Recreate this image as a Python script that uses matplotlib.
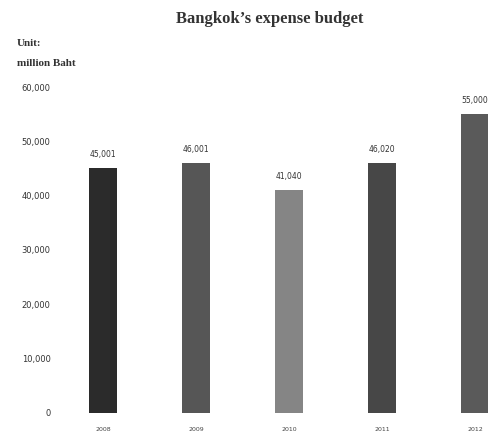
import numpy as np
import matplotlib.pyplot as plt

years = ['2008', '2009', '2010', '2011', '2012']
budget = [45001, 46001, 41040, 46020, 55000]
bar_colors = ['#2b2b2b', '#565656', '#858585', '#474747', '#5a5a5a']
yticks = [0, 10000, 20000, 30000, 40000, 50000, 60000]

plt.rcParams['font.family'] = ['DejaVu Sans']

fig = plt.figure(figsize=(4.88, 4.42), dpi=100)
ax = fig.add_axes([70/488, 29/442, 418/488, 326/442])

x = np.arange(len(years))
ax.bar(x, budget, width=0.31, color=bar_colors)
for xi, v in zip(x, budget):
    ax.text(xi, v + 1700, f'{v:,}', ha='center', va='bottom', fontsize=5.5, color='#333333', clip_on=False)

ax.set_xlim(-0.355, 4.14)
ax.set_ylim(0, 60000)
ax.set_xticks(x)
ax.set_xticklabels(years, fontsize=4.5, color='#444444')
ax.set_yticks(yticks)
ax.set_yticklabels([f'{t:,}' for t in yticks], fontsize=6, color='#333333')
ax.tick_params(length=0)
ax.tick_params(axis='y', pad=14)
ax.tick_params(axis='x', pad=10)
for s in ax.spines.values():
    s.set_visible(False)

fig.text(270/488, 1 - 19/442, "Bangkok\u2019s expense budget", ha='center', va='center',
         fontsize=12, fontweight='bold', color='#333333', family='Liberation Serif')
fig.text(17/488, 1 - 44/442, 'Unit:', ha='left', va='center', fontsize=8, fontweight='bold',
         color='#333333', family='Liberation Serif')
fig.text(17/488, 1 - 63/442, 'million Baht', ha='left', va='center', fontsize=8, fontweight='bold',
         color='#333333', family='Liberation Serif')

fig.savefig('out.png', dpi=100)
